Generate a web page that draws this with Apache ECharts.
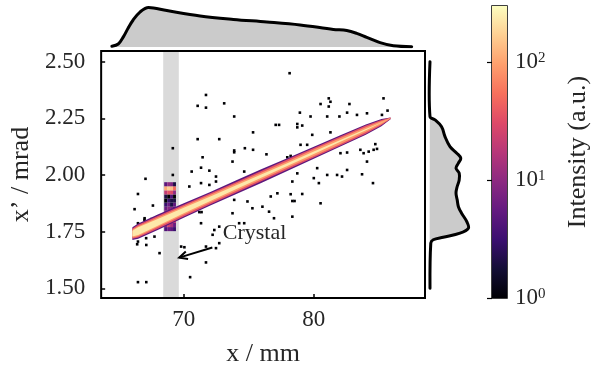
<!DOCTYPE html>
<html>
<head>
<meta charset="utf-8">
<script src="https://cdn.jsdelivr.net/npm/echarts@6/dist/echarts.min.js"></script>
<style>html,body{margin:0;background:#fff}#chart{width:598px;height:374px}</style>
</head>
<body>
<div id="chart"></div>
<script>
// Phase-space map: 2D histogram (log colour scale) with marginal densities.
const xRange = [63.65, 88.55];
const yRange = [1.457, 2.547];
const xTicks = [70, 80];
const yTicks = [1.5, 1.75, 2.0, 2.25, 2.5];
const cbMaxLog = 2.475;               // log10 of the colour bar top
const cbMajor = [0, 1, 2];
const cbMinorRaw = [2, 3, 4, 5, 6, 7, 8, 9, 20, 30, 40, 50, 60, 70, 80, 90, 200];
const crystalBand = [68.42, 69.62];   // shaded x-range

// main ridge: centre line and half widths (mrad) of each intensity level
const ridgeX = [66.05, 66.5, 68, 70, 72, 74, 76, 78, 80, 82, 84, 85.2, 85.9];
const ridgeY = [1.741, 1.752, 1.791, 1.843, 1.894, 1.945, 1.996, 2.047, 2.098, 2.149, 2.200, 2.231, 2.250];
const ridgeLevels = [5, 35, 90, 230];
const ridgeHalf = [
  [0.028, 0.034, 0.034, 0.032, 0.030, 0.030, 0.030, 0.028, 0.027, 0.025, 0.023, 0.016, 0.004],
  [0.023, 0.028, 0.028, 0.026, 0.024, 0.023, 0.023, 0.022, 0.021, 0.020, 0.018, 0.012, 0.003],
  [0.018, 0.022, 0.021, 0.019, 0.017, 0.016, 0.015, 0.014, 0.014, 0.013, 0.011, 0.007, 0.001],
  [0.013, 0.017, 0.015, 0.012, 0.010, 0.008, 0.007, 0.006, 0.005, 0.004, 0.003, 0.001, 0.000],
];

// crystal column cells (bottom row first)
const crystalX = [68.61, 68.84, 69.06, 69.29];
const crystalY = [1.761, 1.779, 1.797, 1.815, 1.833, 1.851, 1.869, 1.887, 1.905, 1.923, 1.941, 1.959];
const crystalVals = [
  [4, 6, 5, 3],
  [10, 25, 14, 6],
  [40, 90, 60, 20],
  [60, 120, 80, 30],
  [12, 30, 20, 8],
  [6, 9, 8, 4],
  [3, 6, 2, 5],
  [1, 3, 2, 2],
  [2, 1, 4, 1],
  [20, 35, 30, 10],
  [110, 170, 140, 50],
  [5, 10, 8, 2],
];

// isolated single-count bins
const noisePts = [
  [78.14, 2.449], [71.71, 2.353], [71.07, 2.305], [71.71, 2.297], [73.11, 2.316], [73.88, 2.258],
  [81.15, 2.338], [80.52, 2.313], [81.28, 2.323], [81.15, 2.302], [82.74, 2.313], [85.36, 2.338],
  [78.93, 2.275], [79.75, 2.258], [81.03, 2.258], [81.97, 2.258], [82.56, 2.275], [83.32, 2.265],
  [84.09, 2.272], [85.24, 2.265], [85.67, 2.284], [77.07, 2.221], [77.33, 2.221], [78.73, 2.225],
  [79.11, 2.218], [78.73, 2.210], [75.33, 2.188], [71.07, 2.158], [72.73, 2.158], [79.88, 2.177],
  [81.28, 2.188], [73.88, 2.108], [73.88, 2.100], [74.70, 2.118], [75.33, 2.111], [76.36, 2.091],
  [77.96, 2.078], [78.22, 2.084], [71.45, 2.078], [78.98, 2.133], [79.49, 2.133], [82.05, 2.096],
  [82.56, 2.099], [83.58, 2.111], [83.83, 2.096], [84.22, 2.103], [84.60, 2.111], [84.86, 2.115],
  [84.09, 2.059], [84.73, 2.136], [73.75, 2.059], [71.33, 2.032], [71.97, 2.019], [70.61, 2.015],
  [72.48, 1.993], [74.65, 2.015], [67.06, 1.983], [69.16, 2.118], [78.73, 2.007], [78.35, 1.971],
  [80.00, 1.986], [80.39, 1.964], [81.03, 2.000], [81.79, 2.000], [82.17, 1.993], [82.56, 2.022],
  [83.71, 2.003], [84.55, 1.964], [80.26, 2.030], [70.43, 1.949], [72.48, 1.971], [71.97, 1.956],
  [71.33, 1.964], [73.88, 1.890], [74.90, 1.883], [76.69, 1.905], [77.20, 1.919], [78.22, 1.915],
  [79.11, 1.916], [78.35, 1.885], [78.52, 1.885], [80.52, 1.875], [76.05, 1.860], [76.56, 1.838],
  [75.28, 1.853], [73.75, 1.831], [76.94, 1.809], [78.35, 1.816], [71.20, 1.836], [71.37, 1.836],
  [66.48, 1.916], [67.63, 1.865], [66.22, 1.849], [66.99, 1.809], [66.42, 1.694], [67.12, 1.691],
  [68.14, 1.655], [69.80, 1.684], [70.05, 1.681], [71.33, 1.787], [72.73, 1.772], [72.35, 1.757],
  [72.22, 1.736], [72.73, 1.699], [72.48, 1.677], [71.71, 1.684], [71.71, 1.614], [70.49, 1.549],
  [66.48, 1.527], [67.12, 1.527], [74.26, 1.787], [74.65, 1.787], [66.48, 1.787], [66.98, 1.802],
  [67.50, 1.805], [68.00, 1.816], [66.48, 1.706], [67.11, 1.721], [67.75, 1.728], [69.16, 2.000],
];

// marginal densities (normalised)
const topKdeX = [64.56, 65.05, 65.45, 65.81, 66.19, 66.73, 67.37, 68.77, 71.32, 73.87, 76.43, 78.98, 81.53, 82.56, 83.32, 84.09, 85.11, 86.13, 87.53];
const topKdeY = [0.02, 0.075, 0.26, 0.475, 0.675, 0.88, 0.99, 0.91, 0.775, 0.69, 0.625, 0.55, 0.44, 0.41, 0.34, 0.24, 0.11, 0.03, 0.008];
const sideKdeY = [2.50, 2.257, 2.243, 2.213, 2.169, 2.125, 2.096, 2.074, 2.052, 2.030, 2.008, 1.978, 1.949, 1.920, 1.890, 1.860, 1.831, 1.794, 1.765, 1.743, 1.725, 1.714, 1.699, 1.50];
const sideKdeW = [0, 0, 0.125, 0.29, 0.375, 0.5, 0.67, 0.77, 0.71, 0.65, 0.73, 0.73, 0.68, 0.65, 0.68, 0.71, 0.79, 0.92, 0.96, 0.75, 0.33, 0.08, 0.02, 0];

// annotation
const arrowFrom = [72.2, 1.68];
const arrowTo = [69.65, 1.635];
const labelAt = [73.0, 1.742];

const serif = "'Liberation Serif', 'DejaVu Serif', serif";
const ink = '#262626';
const magmaStops = ['#000004', '#140e36', '#3b0f70', '#641a80', '#8c2981', '#b73779',
  '#de4968', '#f7705c', '#fe9f6d', '#fecf92', '#fcfdbf'];

const hex = (h) => [1, 3, 5].map((i) => parseInt(h.slice(i, i + 2), 16));
function magma(v) {
  const t = Math.max(0, Math.min(1, Math.log10(v) / cbMaxLog));
  const f = t * 10, i = Math.min(9, Math.floor(f)), u = f - i;
  const a = hex(magmaStops[i]), b = hex(magmaStops[i + 1]);
  const c = a.map((x, k) => Math.round(x + (b[k] - x) * u));
  return `rgb(${c.join(',')})`;
}

function cellRenderer(w, h) {
  return (params, api) => {
    const x = api.value(0), y = api.value(1);
    const p0 = api.coord([x - w / 2, y + h / 2]);
    const p1 = api.coord([x + w / 2, y - h / 2]);
    return {
      type: 'rect',
      shape: { x: p0[0], y: p0[1], width: p1[0] - p0[0], height: p1[1] - p0[1] },
      style: { fill: magma(api.value(2)) },
    };
  };
}

const crystalCells = [];
crystalVals.forEach((row, r) => row.forEach((v, c) => {
  if (v > 0) crystalCells.push([crystalX[c], crystalY[r], v]);
}));

const hiddenAxis = { show: false };
const axisText = { fontFamily: serif, fontSize: 23, color: ink };
const nameText = { fontFamily: serif, fontSize: 26, color: ink };

const option = {
  backgroundColor: '#fff',
  animation: false,
  grid: [
    { left: 100, top: 51, width: 325, height: 247, show: true, borderColor: '#000', borderWidth: 2 },
    { left: 100, top: 5, width: 325, height: 42 },
    { left: 430, top: 51, width: 42, height: 247 },
    { left: 492, top: 6, width: 15, height: 292, show: true, borderColor: '#000', borderWidth: 1.5 },
  ],
  xAxis: [
    {
      gridIndex: 0, type: 'value', min: xRange[0], max: xRange[1],
      name: 'x / mm', nameLocation: 'middle', nameGap: 43, nameTextStyle: nameText,
      axisLine: { show: false },
      axisTick: { inside: true, length: 4, customValues: xTicks, lineStyle: { color: '#000', width: 1.5 } },
      axisLabel: { ...axisText, margin: 10, customValues: xTicks },
      splitLine: { show: false },
    },
    { gridIndex: 1, type: 'value', min: xRange[0], max: xRange[1], ...hiddenAxis },
    { gridIndex: 2, type: 'value', min: 0, max: 1.05, ...hiddenAxis },
    { gridIndex: 3, type: 'value', min: 0, max: 1, ...hiddenAxis },
  ],
  yAxis: [
    {
      gridIndex: 0, type: 'value', min: yRange[0], max: yRange[1],
      name: 'x’ / mrad', nameLocation: 'middle', nameGap: 62, nameTextStyle: nameText,
      axisLine: { show: false },
      axisTick: { inside: true, length: 4, customValues: yTicks, lineStyle: { color: '#000', width: 1.5 } },
      axisLabel: { ...axisText, margin: 16, customValues: yTicks, formatter: (v) => v.toFixed(2) },
      splitLine: { show: false },
    },
    { gridIndex: 1, type: 'value', min: 0, max: 1.05, ...hiddenAxis },
    { gridIndex: 2, type: 'value', min: yRange[0], max: yRange[1], ...hiddenAxis },
    {
      gridIndex: 3, type: 'value', position: 'right', min: 0, max: cbMaxLog,
      name: 'Intensity (a.u.)', nameLocation: 'middle', nameGap: 58, nameTextStyle: nameText,
      axisLine: { show: false },
      axisTick: { inside: true, length: 5, customValues: cbMajor, lineStyle: { color: '#000', width: 1.2 } },
      axisLabel: {
        margin: 8, customValues: cbMajor,
        formatter: (v) => `{b|10}{s|${Math.round(v)}}`,
        rich: {
          b: { fontFamily: serif, fontSize: 23, color: ink },
          s: { fontFamily: serif, fontSize: 15, color: ink, verticalAlign: 'top' },
        },
      },
      splitLine: { show: false },
    },
    {
      gridIndex: 3, type: 'value', position: 'right', min: 0, max: cbMaxLog,
      axisLine: { show: false },
      axisTick: { inside: true, length: 2.5, customValues: cbMinorRaw.map(Math.log10), lineStyle: { color: '#000', width: 1 } },
      axisLabel: { show: false },
      splitLine: { show: false },
    },
  ],
  series: [
    {
      // shaded crystal region
      type: 'custom', xAxisIndex: 0, yAxisIndex: 0, z: 1,
      data: [crystalBand],
      renderItem: (params, api) => {
        const p0 = api.coord([api.value(0), yRange[1]]);
        const p1 = api.coord([api.value(1), yRange[0]]);
        return {
          type: 'rect',
          shape: { x: p0[0], y: p0[1] + 1, width: p1[0] - p0[0], height: p1[1] - p0[1] - 2 },
          style: { fill: '#dadada' },
        };
      },
    },
    {
      type: 'custom', xAxisIndex: 0, yAxisIndex: 0, z: 2,
      data: noisePts.map((p) => [p[0], p[1], 1]),
      renderItem: cellRenderer(0.2, 0.0115),
    },
    {
      type: 'custom', xAxisIndex: 0, yAxisIndex: 0, z: 2,
      data: crystalCells,
      renderItem: cellRenderer(0.225, 0.018),
    },
    {
      // ridge, drawn as nested intensity contours
      type: 'custom', xAxisIndex: 0, yAxisIndex: 0, z: 3,
      data: ridgeLevels.map((v, i) => [i, v]),
      renderItem: (params, api) => {
        const i = api.value(0);
        const upper = ridgeX.map((x, k) => api.coord([x, ridgeY[k] + ridgeHalf[i][k]]));
        const lower = ridgeX.map((x, k) => api.coord([x, ridgeY[k] - ridgeHalf[i][k]])).reverse();
        return { type: 'polygon', shape: { points: upper.concat(lower) }, style: { fill: magma(api.value(1)) } };
      },
    },
    {
      // "Crystal" annotation
      type: 'custom', xAxisIndex: 0, yAxisIndex: 0, z: 4,
      data: [[arrowFrom[0], arrowFrom[1], arrowTo[0], arrowTo[1]]],
      renderItem: (params, api) => {
        const a = api.coord([api.value(0), api.value(1)]);
        const b = api.coord([api.value(2), api.value(3)]);
        const ang = Math.atan2(a[1] - b[1], a[0] - b[0]);
        const wing = (s) => [b[0] + 9 * Math.cos(ang + s), b[1] + 9 * Math.sin(ang + s)];
        const t = api.coord(labelAt);
        return {
          type: 'group',
          children: [
            { type: 'line', shape: { x1: a[0], y1: a[1], x2: b[0], y2: b[1] }, style: { stroke: '#000', lineWidth: 2 } },
            { type: 'polyline', shape: { points: [wing(0.45), b, wing(-0.45)] }, style: { stroke: '#000', lineWidth: 2, fill: null } },
            { type: 'text', x: t[0], y: t[1], style: { text: 'Crystal', font: `22px ${serif}`, fill: ink, align: 'left', verticalAlign: 'middle' } },
          ],
        };
      },
    },
    {
      type: 'line', xAxisIndex: 1, yAxisIndex: 1, smooth: 0.35, symbol: 'none',
      data: topKdeX.map((x, i) => [x, topKdeY[i]]),
      lineStyle: { color: '#000', width: 3, cap: 'round' },
      areaStyle: { color: '#cbcbcb', opacity: 1 },
    },
    {
      type: 'custom', xAxisIndex: 2, yAxisIndex: 2,
      data: [[0, 0]],
      renderItem: (params, api) => {
        const pts = sideKdeY.map((y, i) => api.coord([sideKdeW[i], y]));
        return {
          type: 'group',
          children: [
            { type: 'polygon', shape: { points: pts, smooth: 0.35 }, style: { fill: '#cbcbcb' } },
            { type: 'polyline', shape: { points: pts, smooth: 0.35 }, style: { stroke: '#000', lineWidth: 3, fill: null, lineCap: 'round' } },
          ],
        };
      },
    },
    {
      // colour bar
      type: 'custom', xAxisIndex: 3, yAxisIndex: 3,
      data: [[0, 0]],
      renderItem: (params, api) => {
        const p0 = api.coord([0, cbMaxLog]);
        const p1 = api.coord([1, 0]);
        return {
          type: 'rect',
          shape: { x: p0[0], y: p0[1], width: p1[0] - p0[0], height: p1[1] - p0[1] },
          style: {
            fill: new echarts.graphic.LinearGradient(0, 1, 0, 0,
              magmaStops.map((c, i) => ({ offset: i / 10, color: c }))),
          },
        };
      },
    },
  ],
};

const chart = echarts.init(document.getElementById('chart'), null, { renderer: 'canvas' });
chart.setOption(option);
</script>
</body>
</html>
